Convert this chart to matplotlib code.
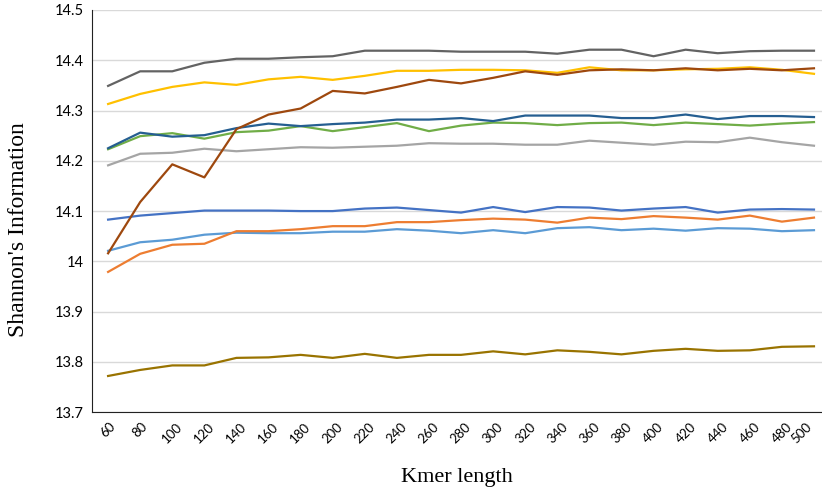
from matplotlib import pyplot as plt
from matplotlib.ticker import FuncFormatter
import numpy as np

# Kmer lengths on the x axis
kmer = np.arange(60, 501, 20)

# One list per series (Shannon's information)
s_lightblue = [14.021, 14.038, 14.043, 14.053, 14.057, 14.056, 14.056, 14.059, 14.059, 14.064, 14.061, 14.056,
               14.062, 14.056, 14.066, 14.068, 14.062, 14.065, 14.061, 14.066, 14.065, 14.060, 14.062]
s_orange = [13.979, 14.015, 14.033, 14.035, 14.060, 14.060, 14.064, 14.070, 14.070, 14.078, 14.078, 14.082,
            14.085, 14.083, 14.077, 14.087, 14.084, 14.090, 14.087, 14.083, 14.091, 14.079, 14.087]
s_gray = [14.191, 14.214, 14.216, 14.224, 14.219, 14.223, 14.227, 14.226, 14.228, 14.230, 14.235, 14.234,
          14.234, 14.232, 14.232, 14.240, 14.236, 14.232, 14.238, 14.237, 14.246, 14.237, 14.230]
s_gold = [14.313, 14.333, 14.347, 14.356, 14.351, 14.362, 14.367, 14.361, 14.369, 14.379, 14.379, 14.381,
          14.381, 14.380, 14.375, 14.386, 14.380, 14.380, 14.382, 14.383, 14.386, 14.381, 14.373]
s_blue = [14.083, 14.091, 14.096, 14.101, 14.101, 14.101, 14.100, 14.100, 14.105, 14.107, 14.102, 14.097,
          14.108, 14.098, 14.108, 14.107, 14.101, 14.105, 14.108, 14.097, 14.103, 14.104, 14.103]
s_green = [14.223, 14.249, 14.255, 14.244, 14.257, 14.260, 14.269, 14.259, 14.267, 14.275, 14.259, 14.270,
           14.276, 14.275, 14.271, 14.275, 14.276, 14.271, 14.276, 14.273, 14.270, 14.274, 14.277]
s_navy = [14.225, 14.256, 14.248, 14.251, 14.265, 14.274, 14.269, 14.273, 14.276, 14.282, 14.282, 14.285,
          14.279, 14.290, 14.290, 14.290, 14.285, 14.285, 14.292, 14.283, 14.289, 14.289, 14.287]
s_brown = [14.016, 14.118, 14.193, 14.167, 14.263, 14.292, 14.304, 14.339, 14.334, 14.347, 14.361, 14.354,
           14.365, 14.378, 14.371, 14.380, 14.382, 14.380, 14.384, 14.380, 14.383, 14.380, 14.384]
s_darkgray = [14.349, 14.378, 14.378, 14.395, 14.403, 14.403, 14.406, 14.408, 14.419, 14.419, 14.419, 14.417,
              14.417, 14.417, 14.413, 14.421, 14.421, 14.408, 14.421, 14.414, 14.418, 14.419, 14.419]
s_olive = [13.772, 13.784, 13.793, 13.793, 13.808, 13.809, 13.814, 13.808, 13.816, 13.808, 13.814, 13.814,
           13.821, 13.815, 13.823, 13.820, 13.815, 13.822, 13.826, 13.822, 13.823, 13.830, 13.831]

series = [s_lightblue, s_orange, s_gray, s_gold, s_blue, s_green, s_navy, s_brown, s_darkgray, s_olive]
colors = ["#5B9BD5", "#ED7D31", "#A5A5A5", "#FFC000", "#4472C4", "#70AD47",
          "#255E91", "#9E480E", "#636363", "#997300"]

fig = plt.figure(figsize=(8.22, 4.99), dpi=100)
ax = fig.add_axes([0.112, 0.174, 0.888, 0.806])

for vals, col in zip(series, colors):
    ax.plot(kmer, vals, color=col, linewidth=1.6, solid_joinstyle="round")

# Formatting
ax.set_xlim(50, 505)
ax.set_ylim(13.7, 14.5)
ax.set_yticks(np.arange(13.7, 14.51, 0.1))
ax.yaxis.set_major_formatter(FuncFormatter(lambda v, _: f"{v:g}" if abs(v - 14) > 1e-6 else "14"))
ax.set_xticks(kmer)
ax.set_xticklabels([str(k) for k in kmer], rotation=45, ha="center", fontsize=9.5, family="Lato")
ax.get_xticklabels()[-1].set_ha("right")  # keep the last label inside the figure
for lbl in ax.get_yticklabels():
    lbl.set_family("Lato")
    lbl.set_fontsize(10.5)
ax.tick_params(axis="both", length=0, colors="#000000")
ax.tick_params(axis="y", pad=6)
ax.tick_params(axis="x", pad=6)
ax.grid(axis="y", color="#D9D9D9", linewidth=1)
ax.set_axisbelow(True)
for side in ["top", "right"]:
    ax.spines[side].set_visible(False)
ax.spines["left"].set_color("#222222")
ax.spines["bottom"].set_color("#222222")

ax.set_xlabel("Kmer length", family="Liberation Serif", fontsize=16, labelpad=16)
ax.set_ylabel("Shannon's Information", family="Liberation Serif", fontsize=17)
ax.yaxis.set_label_coords(-0.086, 0.455)

fig.savefig("out.png", dpi=100)
